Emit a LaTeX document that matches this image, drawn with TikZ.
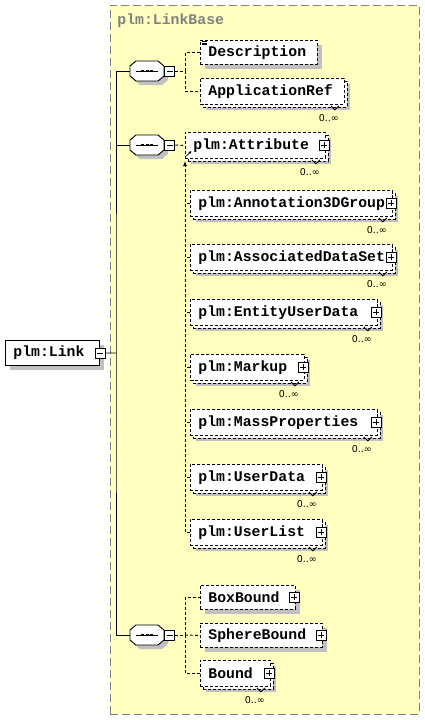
\documentclass[tikz,border=0pt]{standalone}
\usepackage{fontspec}
\usetikzlibrary{shadows, arrows.meta}

\newfontfamily\elemfont{Liberation Mono}
\newfontfamily\cardfont{DejaVu Sans}
\definecolor{basefill}{RGB}{255,255,192}
\definecolor{shadowgray}{RGB}{192,192,192}
\definecolor{titlegray}{RGB}{128,128,128}

\tikzset{
  elem/.style={draw, fill=white, anchor=north west, align=left,
    inner xsep=8pt, inner ysep=0pt, dash pattern=on 3pt off 2pt,
    font=\elemfont\bfseries\fontsize{14.8}{16}\selectfont,
    execute at begin node={\hyphenpenalty=10000}},
  once/.style={drop shadow={shadow xshift=5pt, shadow yshift=-5pt, fill=shadowgray, opacity=1}},
  many/.style={drop shadow={shadow xshift=6pt, shadow yshift=-6pt, fill=shadowgray, opacity=1},
    copy shadow={shadow xshift=3pt, shadow yshift=-3pt, fill=white, draw=black}},
  seq/.style={minimum width=34pt, minimum height=20pt, inner sep=0pt},
  plus/.style={draw, solid, fill=white, minimum size=10pt, inner sep=0pt, line width=0.8pt,
    path picture={
      \draw ([yshift=-2pt]path picture bounding box.north) -- ([yshift=2pt]path picture bounding box.south)
        ([xshift=2pt]path picture bounding box.west) -- ([xshift=-2pt]path picture bounding box.east);
    }},
  minus/.style={draw, solid, fill=white, minimum size=10pt, inner sep=0pt, line width=0.8pt,
    path picture={
      \draw ([xshift=2pt]path picture bounding box.west) -- ([xshift=-2pt]path picture bounding box.east);
    }},
  conn/.style={dash pattern=on 3pt off 2pt},
  card/.style={font=\cardfont\fontsize{9.5}{10}\selectfont, inner sep=0pt},
  basebox/.style={draw=titlegray, fill=basefill, dash pattern=on 8pt off 4pt, anchor=north west,
    minimum width=309pt, minimum height=709pt, inner sep=0pt}
}

\begin{document}
\begin{tikzpicture}[x=1pt, y=-1pt, line width=0.9pt]
\useasboundingbox (0,0) rectangle (425,720);

% complex type base
\node[basebox] (base) at (110,5) {};
\node[anchor=west, inner sep=0pt, text=titlegray, font=\elemfont\bfseries\fontsize{14.8}{16}\selectfont]
  (base-title) at (117,21) {plm:LinkBase};

% the element itself
\node[elem, solid, once, text width=78pt, minimum height=25pt] (link) at (5,340) {plm:Link};
\node[minus] (link-minus) at (link.east) {};

% sequences
\node[seq] (seqa) at (147,71) {};
\node[seq] (seqb) at (147,145) {};
\node[seq] (seqc) at (147,635) {};
\foreach \n in {seqa, seqb, seqc}{
  \fill[shadowgray] ([xshift=4pt,yshift=-4pt]\n.center) +(-17pt,5pt) -- +(-11pt,10pt) -- +(11pt,10pt)
    -- +(17pt,5pt) -- +(17pt,-5pt) -- +(11pt,-10pt) -- +(-11pt,-10pt) -- +(-17pt,-5pt) -- cycle;
  \filldraw[fill=white] (\n.center) +(-17pt,5pt) -- +(-11pt,10pt) -- +(11pt,10pt)
    -- +(17pt,5pt) -- +(17pt,-5pt) -- +(11pt,-10pt) -- +(-11pt,-10pt) -- +(-17pt,-5pt) -- cycle;
  \draw[line width=0.7pt] (\n.center) +(-11pt,0) -- +(11pt,0);
  \foreach \dx in {-4.3,0,4.3}
    \fill ([xshift=\dx pt]\n.center) +(-1.5pt,-1.2pt) rectangle +(1.5pt,1.2pt);
}
\node[minus, anchor=west] (seqa-minus) at (seqa.east) {};
\node[minus, anchor=west] (seqb-minus) at (seqb.east) {};
\node[minus, anchor=west] (seqc-minus) at (seqc.east) {};

% first sequence
\node[elem, once, text width=101pt, minimum height=24pt] (desc) at (200,40) {Description};
\node[elem, many, text width=128pt, minimum height=26pt] (appref) at (200,78) {ApplicationRef};
\foreach \dy in {1.5,3,4.5}
  \draw[line width=0.6pt] ([xshift=2pt,yshift=-\dy pt]desc.north west) -- ++(5pt,0);

% second sequence, substitution group
\node[elem, many, text width=124pt, minimum height=26pt] (attr) at (185,132) {plm:Attribute};
\node[elem, many, text width=186pt, minimum height=26pt] (annot) at (190,190) {plm:Annotation3DGroup};
\node[elem, many, text width=186pt, minimum height=26pt] (assoc) at (190,244) {plm:AssociatedDataSet};
\node[elem, many, text width=171pt, minimum height=26pt] (entity) at (190,299) {plm:EntityUserData};
\node[elem, many, text width=98pt, minimum height=26pt] (markup) at (190,354) {plm:Markup};
\node[elem, many, text width=171pt, minimum height=26pt] (mass) at (190,409) {plm:MassProperties};
\node[elem, many, text width=116pt, minimum height=26pt] (userdata) at (190,464) {plm:UserData};
\node[elem, many, text width=116pt, minimum height=26pt] (userlist) at (190,519) {plm:UserList};

% third sequence
\node[elem, once, text width=79pt, minimum height=24pt] (boxbound) at (200,585) {BoxBound};
\node[elem, once, text width=106pt, minimum height=24pt] (sphere) at (200,623) {SphereBound};
\node[elem, many, text width=54pt, minimum height=26pt] (bound) at (200,660) {Bound};

% expand boxes and occurrences
\foreach \n in {attr, annot, assoc, entity, markup, mass, userdata, userlist, boxbound, sphere, bound}
  \node[plus] (\n-plus) at ([xshift=-2pt]\n.east) {};
\foreach \n in {appref, attr, annot, assoc, entity, markup, mass, userdata, userlist, bound}{
  \draw[line width=0.8pt] ([xshift=-14pt,yshift=-1pt]\n.south east) -- ++(4pt,-4pt) -- ++(4pt,4pt);
  \node[card] (\n-card) at ([xshift=-16pt,yshift=-13pt]\n.south east) {0..∞};
}

% connectors
\coordinate (trunk) at (116,353);
\draw (link-minus.east) -- (trunk);
\draw (seqa.west) -| (trunk) |- (seqc.west);
\draw (seqb.west) -- (seqb.west -| trunk);

\coordinate (forka) at (185,71);
\draw[conn] (seqa-minus.east) -- (forka) |- (desc.west);
\draw[conn] (forka) |- (appref.west);

\draw[conn] (seqb-minus.east) -- (attr.west);
\coordinate (subst-top) at (185,161);
\draw[conn, -{Latex[length=5pt,width=4pt]}] (userlist.west) -| (subst-top);
\foreach \n in {annot, assoc, entity, markup, mass, userdata}
  \draw[conn] (\n.west) -- ++(-5pt,0);
\draw[line width=0.8pt, -{Latex[length=3pt,width=3pt]}]
  ([xshift=1.5pt,yshift=3pt]attr.south west) -- ([xshift=6.5pt,yshift=8pt]attr.south west);

\coordinate (forkc) at (185,635);
\draw[conn] (seqc-minus.east) -- (forkc) |- (boxbound.west);
\draw[conn] (forkc) -- (sphere.west);
\draw[conn] (forkc) |- (bound.west);
\end{tikzpicture}
\end{document}
